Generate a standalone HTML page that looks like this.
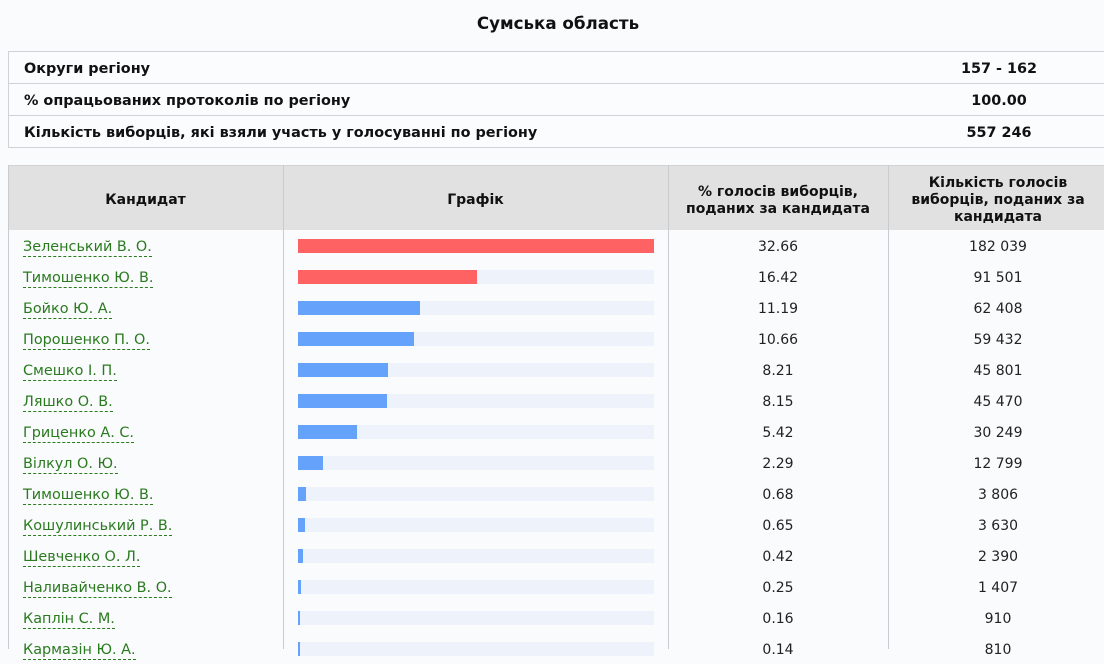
<!DOCTYPE html>
<html><head><meta charset="utf-8">
<style>
*{margin:0;padding:0;box-sizing:border-box}
html,body{width:1104px;height:649px;overflow:hidden;background:#f9fbfd;font-family:"DejaVu Sans","Liberation Sans",sans-serif;color:#111}
h1{position:absolute;left:8px;width:1100px;top:12px;text-align:center;font-size:16.7px;font-weight:bold;line-height:22px}
.t1{position:absolute;left:8px;top:51px;width:1100px;border-left:1px solid #cfd3d6;border-top:1px solid #cfd3d6;background:#fbfcfe}
.t1 .r{height:32px;border-bottom:1px solid #cfd3d6;position:relative;font-weight:bold;font-size:14.4px;line-height:31px}
.t1 .l{position:absolute;left:15px;top:2px}
.t1 .v{position:absolute;left:880px;width:220px;text-align:center;top:2px}
.hd{position:absolute;left:8px;top:165px;width:1100px;height:65px;background:#e1e1e1;border-top:1px solid #d2d2d2}
.hc{position:absolute;top:2px;height:65px;display:flex;align-items:center;justify-content:center;text-align:center;font-weight:bold;font-size:14px;line-height:17px}
.vl{position:absolute;width:1px;background:#c9cccf}
.row{position:absolute;left:8px;width:1100px;height:31px;font-size:14px}
.nm{position:absolute;left:15px;top:8px;color:#2b7a1f;line-height:18px;font-size:14.4px;border-bottom:1px dashed #2b7a1f}
.trk{position:absolute;left:290px;top:9px;width:356px;height:14px;background:#edf2fb}
.bar{position:absolute;left:0;top:0;height:14px}
.red{background:#ff6262}
.blu{background:#64a2fb}
.p{position:absolute;left:660px;width:220px;text-align:center;top:8px;line-height:18px;color:#222}
.c{position:absolute;left:880px;width:220px;text-align:center;top:8px;line-height:18px;color:#222}
</style></head><body>
<h1>Сумська область</h1>
<div class="t1">
 <div class="r"><span class="l">Округи регіону</span><span class="v">157 - 162</span></div>
 <div class="r"><span class="l">% опрацьованих протоколів по регіону</span><span class="v">100.00</span></div>
 <div class="r"><span class="l">Кількість виборців, які взяли участь у голосуванні по регіону</span><span class="v">557 246</span></div>
</div>
<div class="hd">
 <div class="hc" style="left:0;width:275px">Кандидат</div>
 <div class="hc" style="left:275px;width:385px">Графік</div>
 <div class="hc" style="left:660px;width:220px">% голосів виборців,<br>поданих за кандидата</div>
 <div class="hc" style="left:880px;width:220px">Кількість голосів<br>виборців, поданих за<br>кандидата</div>
</div>
<div class="vl" style="left:8px;top:165px;height:484px"></div>
<div class="vl" style="left:283px;top:165px;height:484px"></div>
<div class="vl" style="left:668px;top:165px;height:484px"></div>
<div class="vl" style="left:888px;top:165px;height:484px"></div>

<div class="row" style="top:230px"><span class="nm">Зеленський В. О.</span><div class="trk"><div class="bar red" style="width:356px"></div></div><span class="p">32.66</span><span class="c">182 039</span></div>
<div class="row" style="top:261px"><span class="nm">Тимошенко Ю. В.</span><div class="trk"><div class="bar red" style="width:179px"></div></div><span class="p">16.42</span><span class="c">91 501</span></div>
<div class="row" style="top:292px"><span class="nm">Бойко Ю. А.</span><div class="trk"><div class="bar blu" style="width:122px"></div></div><span class="p">11.19</span><span class="c">62 408</span></div>
<div class="row" style="top:323px"><span class="nm">Порошенко П. О.</span><div class="trk"><div class="bar blu" style="width:116px"></div></div><span class="p">10.66</span><span class="c">59 432</span></div>
<div class="row" style="top:354px"><span class="nm">Смешко І. П.</span><div class="trk"><div class="bar blu" style="width:90px"></div></div><span class="p">8.21</span><span class="c">45 801</span></div>
<div class="row" style="top:385px"><span class="nm">Ляшко О. В.</span><div class="trk"><div class="bar blu" style="width:89px"></div></div><span class="p">8.15</span><span class="c">45 470</span></div>
<div class="row" style="top:416px"><span class="nm">Гриценко А. С.</span><div class="trk"><div class="bar blu" style="width:59px"></div></div><span class="p">5.42</span><span class="c">30 249</span></div>
<div class="row" style="top:447px"><span class="nm">Вілкул О. Ю.</span><div class="trk"><div class="bar blu" style="width:25px"></div></div><span class="p">2.29</span><span class="c">12 799</span></div>
<div class="row" style="top:478px"><span class="nm">Тимошенко Ю. В.</span><div class="trk"><div class="bar blu" style="width:8px"></div></div><span class="p">0.68</span><span class="c">3 806</span></div>
<div class="row" style="top:509px"><span class="nm">Кошулинський Р. В.</span><div class="trk"><div class="bar blu" style="width:7px"></div></div><span class="p">0.65</span><span class="c">3 630</span></div>
<div class="row" style="top:540px"><span class="nm">Шевченко О. Л.</span><div class="trk"><div class="bar blu" style="width:5px"></div></div><span class="p">0.42</span><span class="c">2 390</span></div>
<div class="row" style="top:571px"><span class="nm">Наливайченко В. О.</span><div class="trk"><div class="bar blu" style="width:3px"></div></div><span class="p">0.25</span><span class="c">1 407</span></div>
<div class="row" style="top:602px"><span class="nm">Каплін С. М.</span><div class="trk"><div class="bar blu" style="width:2px"></div></div><span class="p">0.16</span><span class="c">910</span></div>
<div class="row" style="top:633px"><span class="nm">Кармазін Ю. А.</span><div class="trk"><div class="bar blu" style="width:2px"></div></div><span class="p">0.14</span><span class="c">810</span></div>
</body></html>
